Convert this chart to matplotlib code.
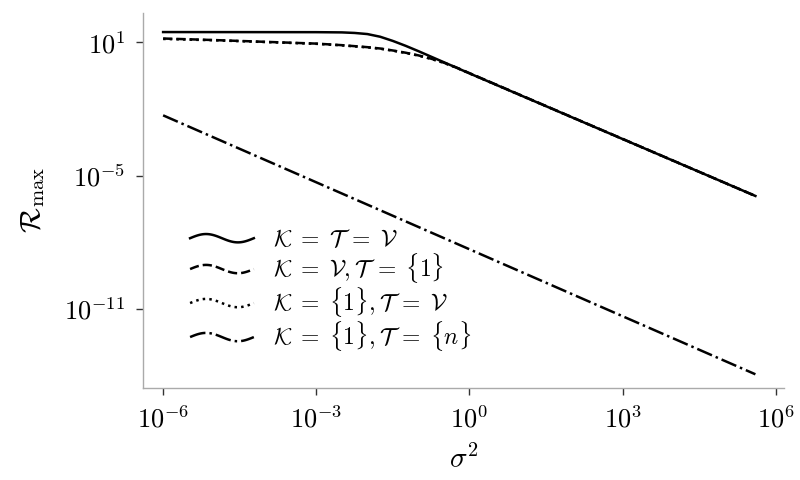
import numpy as np
import matplotlib
matplotlib.use("Agg")
import matplotlib.pyplot as plt
from matplotlib.lines import Line2D
from matplotlib.legend_handler import HandlerLine2D
from matplotlib.ticker import NullLocator

plt.rcParams["font.family"] = "serif"
plt.rcParams["font.serif"] = ["cmr10", "DejaVu Serif"]
plt.rcParams["mathtext.fontset"] = "cm"
plt.rcParams["axes.formatter.use_mathtext"] = True

# values (log10 of sigma^2, log10 of R_max)
logx_full = [-6, -3, -2.5, -2.25, -2, -1.75, -1.5, -1.25, -1, -0.75, -0.5, -0.25, 0, 5.6]
logy_full = [1.46, 1.455, 1.445, 1.42, 1.37, 1.25, 1.06, 0.84, 0.60, 0.35, 0.10, -0.15, -0.40, -5.92]

logx_kv = [-6, -5, -4, -3, -2.5, -2, -1.75, -1.5, -1.25, -1, -0.75, -0.5, -0.25, 0, 5.6]
logy_kv = [1.17, 1.10, 1.02, 0.94, 0.87, 0.78, 0.72, 0.63, 0.53, 0.41, 0.26, 0.08, -0.14, -0.39, -5.92]

logx_1v = [-6, -5, -4, -3, -2.5, -2, -1.75, -1.5, -1.25, -1, -0.75, -0.5, -0.25, 0, 5.6]
logy_1v = [1.15, 1.09, 1.01, 0.93, 0.86, 0.77, 0.71, 0.62, 0.52, 0.40, 0.25, 0.07, -0.15, -0.40, -5.92]

logx_1n = [-6, 5.6]
logy_1n = [-2.29, -13.95]

labels = [r"$\mathcal{K}\;=\;\mathcal{T}\;=\;\mathcal{V}$",
          r"$\mathcal{K}\;=\;\mathcal{V},\mathcal{T}\;=\;\{1\}$",
          r"$\mathcal{K}\;=\;\{1\},\mathcal{T}\;=\;\mathcal{V}$",
          r"$\mathcal{K}\;=\;\{1\},\mathcal{T}\;=\;\{n\}$"]


class WavyHandler(HandlerLine2D):
    # legend handle drawn as one sine period
    def create_artists(self, legend, orig_handle, xdescent, ydescent,
                       width, height, fontsize, trans):
        t = np.linspace(0, 1, 60)
        xs = -xdescent + t * width
        ys = height / 2 - ydescent + 3.0 * np.sin(2 * np.pi * t)
        line = Line2D(xs, ys)
        self.update_prop(line, orig_handle, legend)
        line.set_transform(trans)
        return [line]


fig = plt.figure(figsize=(8, 4.8), dpi=100)
ax = fig.add_axes([0.179, 0.192, 0.801, 0.781])

lw = 1.8
ax.plot(10 ** np.array(logx_full), 10 ** np.array(logy_full), "k-", lw=lw, label=labels[0])
ax.plot(10 ** np.array(logx_kv), 10 ** np.array(logy_kv), "k--", lw=lw, label=labels[1])
ax.plot(10 ** np.array(logx_1v), 10 ** np.array(logy_1v), "k:", lw=lw, label=labels[2])
ax.plot(10 ** np.array(logx_1n), 10 ** np.array(logy_1n), "k-.", lw=lw, label=labels[3])

ax.set_xscale("log")
ax.set_yscale("log")
ax.set_xlim(10 ** -6.39, 10 ** 6.16)
ax.set_ylim(10 ** -14.56, 10 ** 2.32)
ax.set_xticks([1e-6, 1e-3, 1e0, 1e3, 1e6])
ax.set_yticks([1e1, 1e-5, 1e-11])
ax.xaxis.set_minor_locator(NullLocator())
ax.yaxis.set_minor_locator(NullLocator())

for s in ["top", "right"]:
    ax.spines[s].set_visible(False)
for s in ["left", "bottom"]:
    ax.spines[s].set_color("#aaaaaa")
    ax.spines[s].set_linewidth(1.0)
ax.tick_params(labelsize=19, length=5, width=1.0, color="#333333", pad=8)

ax.set_xlabel(r"$\sigma^2$", fontsize=21, labelpad=8)
ax.set_ylabel(r"$\mathcal{R}_{\max}$", fontsize=21, labelpad=12)

ax.legend(handler_map={Line2D: WavyHandler()}, loc="lower left",
          bbox_to_anchor=(0.04, 0.035), frameon=False, fontsize=17,
          handlelength=2.7, handletextpad=0.8, labelspacing=0.0)

fig.savefig("out.png", dpi=100)
